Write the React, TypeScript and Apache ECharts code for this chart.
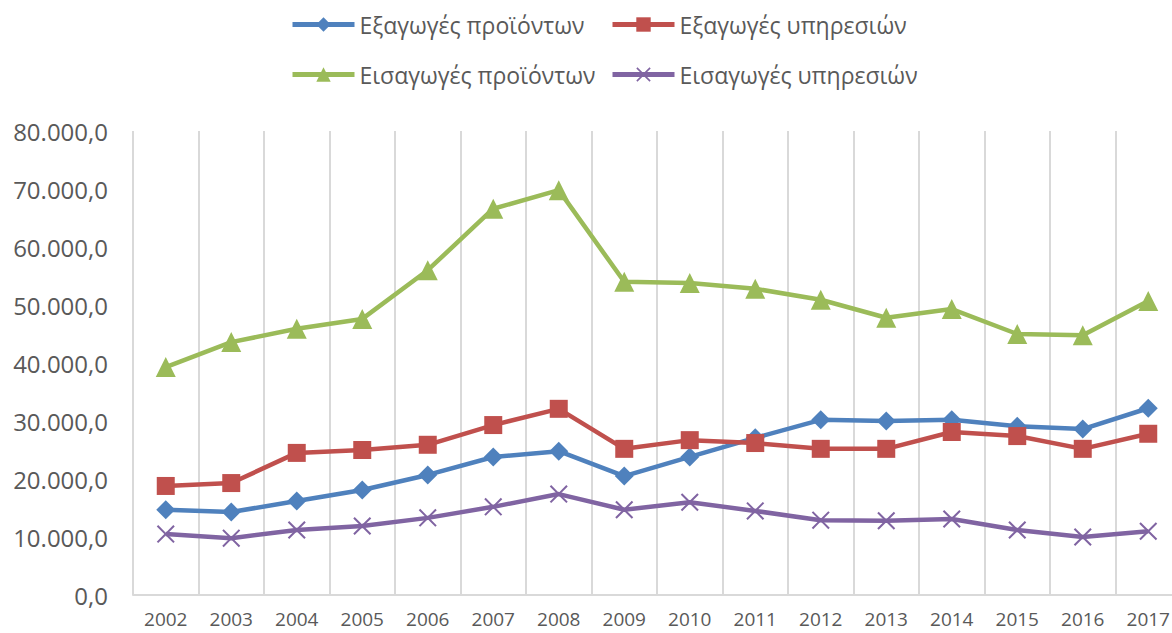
import React, { useEffect, useRef } from "react";
import * as echarts from "echarts";

const years = ["2002","2003","2004","2005","2006","2007","2008","2009","2010","2011","2012","2013","2014","2015","2016","2017"];
const exportsGoods = [14700,14300,16200,18100,20700,23800,24800,20500,23800,27100,30200,30000,30200,29100,28600,32200];
const exportsServices = [18800,19300,24500,25000,25900,29300,32100,25200,26700,26200,25200,25200,28100,27400,25200,27800];
const importsGoods = [39300,43600,45900,47600,56000,66600,69800,54000,53800,52800,50900,47800,49300,45000,44800,50700];
const importsServices = [10500,9800,11200,11900,13300,15200,17400,14700,16000,14500,12900,12800,13100,11200,10000,11000];
const seriesNames = ["Εξαγωγές προϊόντων","Εξαγωγές υπηρεσιών","Εισαγωγές προϊόντων","Εισαγωγές υπηρεσιών"];
const colors = ["#4F81BD","#C0504D","#9BBB59","#8064A2"];

const FONT = "'Open Sans', 'DejaVu Sans', sans-serif";
const TEXT = "#595959";
const X_SYMBOL = "path://M0,0.8 L0.8,0 L5,4.2 L9.2,0 L10,0.8 L5.8,5 L10,9.2 L9.2,10 L5,5.8 L0.8,10 L0,9.2 L4.2,5 Z";

function fmt(v: number): string {
  const s = Math.round(v).toString().replace(/\B(?=(\d{3})+(?!\d))/g, ".");
  return s + ",0";
}

export default function App() {
  const ref = useRef<HTMLDivElement>(null);
  useEffect(() => {
    if (!ref.current) return;
    const chart = echarts.init(ref.current, null, { renderer: "svg" });
    const dataSets = [exportsGoods, exportsServices, importsGoods, importsServices];
    const symbols = ["diamond", "rect", "triangle", X_SYMBOL];
    const sizes = [19, 18, 20, 18];
    const legendPos = [
      { left: 290, top: 13 },
      { left: 610, top: 13 },
      { left: 290, top: 63 },
      { left: 610, top: 63 },
    ];
    chart.setOption({
      animation: false,
      color: colors,
      textStyle: { fontFamily: FONT },
      legend: seriesNames.map((n, i) => ({
        data: [n],
        left: legendPos[i].left,
        top: legendPos[i].top,
        itemWidth: 62,
        itemHeight: 18,
        itemGap: 5,
        padding: 0,
        lineStyle: { width: 5 },
        textStyle: { fontFamily: FONT, fontSize: 23, color: TEXT, padding: [0, 0, 0, 0] },
      })),
      grid: { left: 133, top: 131, width: 1048, height: 464, containLabel: false },
      xAxis: {
        type: "category",
        data: years,
        boundaryGap: true,
        axisLine: { show: true, lineStyle: { color: "#D9D9D9", width: 2 } },
        axisTick: { show: false },
        splitLine: { show: true, lineStyle: { color: "#D9D9D9", width: 2 } },
        axisLabel: { fontFamily: FONT, fontSize: 19, lineHeight: 19, color: TEXT, margin: 14, interval: 0 },
      },
      yAxis: {
        type: "value",
        min: 0,
        max: 80000,
        interval: 10000,
        axisLine: { show: false },
        axisTick: { show: false },
        splitLine: { show: false },
        axisLabel: { fontFamily: FONT, fontSize: 24, color: TEXT, margin: 25, formatter: (v: number) => fmt(v) },
      },
      series: dataSets.map((d, i) => ({
        name: seriesNames[i],
        type: "line",
        data: d,
        symbol: symbols[i],
        symbolSize: sizes[i],
        showAllSymbol: true,
        lineStyle: { width: 4.5, color: colors[i] },
        itemStyle: { color: colors[i] },
        z: i === 3 ? 3 : 2,
      })),
    });
    return () => chart.dispose();
  }, []);
  return (
    <div style={{ position: "fixed", left: 0, top: 0, width: 1172, height: 633, overflow: "hidden", background: "#fff" }}>
      <div ref={ref} style={{ width: 1200, height: 633 }} />
    </div>
  );
}
